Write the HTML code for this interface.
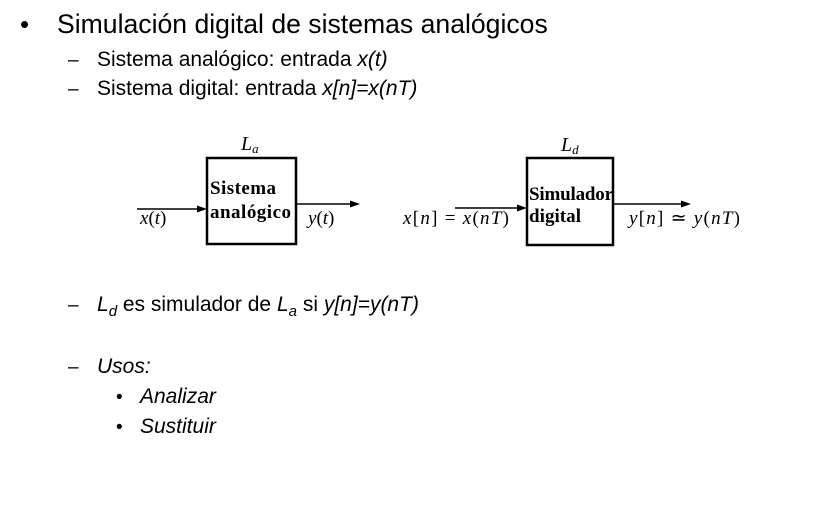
<!DOCTYPE html>
<html><head><meta charset="utf-8"><style>
html,body{margin:0;padding:0;background:#fff;}
svg{display:block;}
.s{font-family:"Liberation Sans",Arial,sans-serif;fill:#000;}
.m{font-family:"Liberation Serif",serif;fill:#000;}
</style></head><body>
<svg width="830" height="526" viewBox="0 0 830 526" xmlns="http://www.w3.org/2000/svg">
<g class="s">
<text x="20" y="33" font-size="26">•</text>
<text x="57" y="33" font-size="26.6">Simulación digital de sistemas analógicos</text>
<text x="68" y="66" font-size="19">–</text>
<text x="97" y="66" font-size="21">Sistema analógico: entrada <tspan font-style="italic">x(t)</tspan></text>
<text x="68" y="95" font-size="19">–</text>
<text x="97" y="95" font-size="21">Sistema digital: entrada <tspan font-style="italic">x[n]=x(nT)</tspan></text>
<text x="68" y="311" font-size="19">–</text>
<text x="97" y="311" font-size="21"><tspan font-style="italic">L</tspan><tspan font-style="italic" font-size="15" dy="5">d</tspan><tspan dy="-5"> es simulador de </tspan><tspan font-style="italic">L</tspan><tspan font-style="italic" font-size="15" dy="5">a</tspan><tspan dy="-5"> si </tspan><tspan font-style="italic">y[n]=y(nT)</tspan></text>
<text x="68" y="373" font-size="19">–</text>
<text x="97" y="373" font-size="21" font-style="italic">Usos:</text>
<text x="116" y="403" font-size="19">•</text>
<text x="140" y="403" font-size="21" font-style="italic">Analizar</text>
<text x="116" y="433" font-size="19">•</text>
<text x="140" y="433" font-size="21" font-style="italic">Sustituir</text>
</g>
<g stroke="#000" fill="none">
<rect x="207" y="158" width="89" height="86" stroke-width="2.5"/>
<rect x="527" y="158" width="86" height="87" stroke-width="2.5"/>
<line x1="137" y1="209" x2="200" y2="209" stroke-width="1.5"/>
<line x1="296" y1="204" x2="352" y2="204" stroke-width="1.5"/>
<line x1="455" y1="208" x2="520" y2="208" stroke-width="1.5"/>
<line x1="613" y1="204" x2="683" y2="204" stroke-width="1.5"/>
</g>
<g fill="#000">
<polygon points="207,209 197,205.5 197,212.5"/>
<polygon points="360,204 350,200.5 350,207.5"/>
<polygon points="527,208 517,204.5 517,211.5"/>
<polygon points="691,204 681,200.5 681,207.5"/>
</g>
<g class="m">
<text x="241" y="150" font-size="20" font-style="italic">L<tspan font-size="13" dy="3">a</tspan></text>
<text x="561" y="151" font-size="20" font-style="italic">L<tspan font-size="13" dy="3">d</tspan></text>
<text x="210" y="194" font-size="19" font-weight="bold" textLength="66">Sistema</text>
<text x="210" y="218" font-size="19" font-weight="bold" textLength="81">analógico</text>
<text x="529" y="200" font-size="19" font-weight="bold" textLength="84">Simulador</text>
<text x="529" y="222" font-size="19" font-weight="bold" textLength="52">digital</text>
<text x="140" y="224" font-size="19"><tspan font-style="italic">x</tspan>(<tspan font-style="italic">t</tspan>)</text>
<text x="308" y="224" font-size="19"><tspan font-style="italic">y</tspan>(<tspan font-style="italic">t</tspan>)</text>
<text x="403" y="224" font-size="19" textLength="106"><tspan font-style="italic">x</tspan>[<tspan font-style="italic">n</tspan>] = <tspan font-style="italic">x</tspan>(<tspan font-style="italic">nT</tspan>)</text>
<text x="629" y="224" font-size="19" textLength="111"><tspan font-style="italic">y</tspan>[<tspan font-style="italic">n</tspan>] ≃ <tspan font-style="italic">y</tspan>(<tspan font-style="italic">nT</tspan>)</text>
</g>
</svg>
</body></html>
